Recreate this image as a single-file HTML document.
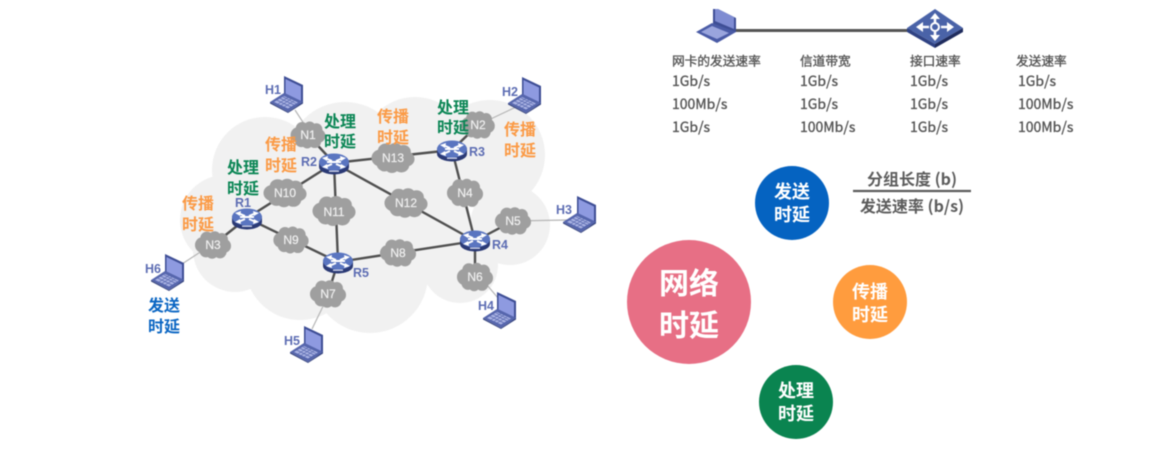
<!DOCTYPE html>
<html lang="zh">
<head>
<meta charset="utf-8">
<title>网络时延</title>
<style>
html,body{margin:0;padding:0;background:#fff;width:1174px;height:471px;overflow:hidden}
svg{display:block;position:absolute;left:0;top:0}
.soft{filter:blur(.5px)}
text{font-family:"Liberation Sans","Noto Sans CJK SC",sans-serif}
.n{font-size:12px;fill:#f0f0f0;text-anchor:middle;font-weight:bold;font-weight:normal;stroke:#f0f0f0;stroke-width:.2px}
.h{font-size:12.5px;font-weight:bold;fill:#5d6db3;text-anchor:middle}
.l{font-size:16px;font-weight:bold;text-anchor:middle;font-family:"Noto Sans CJK SC",sans-serif}
.o{fill:#fb9a45}.g{fill:#0b8655}.b{fill:#0b66c3}
.t{font-size:12.7px;fill:#555;stroke:#555;stroke-width:.35px;font-family:"Noto Sans CJK SC",sans-serif}
.v{font-size:14px;fill:#555;stroke:#555;stroke-width:.35px;font-family:"Noto Sans CJK SC",sans-serif}
.w{fill:#fff;font-weight:bold;text-anchor:middle;font-family:"Noto Sans CJK SC",sans-serif}
.f{font-size:16px;font-weight:bold;fill:#5c5c5c;text-anchor:middle;font-family:"Noto Sans CJK SC",sans-serif}
</style>
</head>
<body>
<svg class="soft" width="1174" height="471" viewBox="0 0 1174 471" xmlns="http://www.w3.org/2000/svg">
<defs>
<g id="cloud">
<circle cx="-12" cy="0" r="8.5"/><circle cx="-7" cy="-7" r="7.5"/><circle cx="2" cy="-8" r="7"/><circle cx="10" cy="-6" r="7"/>
<circle cx="13" cy="1" r="7.5"/><circle cx="8" cy="7" r="7.5"/><circle cx="-1" cy="8" r="7"/><circle cx="-8" cy="6" r="7.5"/>
<ellipse cx="0" cy="0" rx="13" ry="10"/>
</g>
<g id="laptop">
<path d="M14 0 33 9V27L27 30 14 18Z" fill="#3e4e95"/>
<path d="M15.500 3 31 10.500V25L15.500 17.500Z" fill="#8e9ae0"/>
<path d="M0 26 14 17 33 26 18 36Z" fill="#5666ad"/>
<path d="M0 26V27.500L18 37 33 27.500V26L18 36Z" fill="#37457f"/>
<path d="M4 26 14 20 28 26.500 18 32.500Z" fill="#aab3e3"/>
<path d="M7 24.200 21 31M10 22.300 24 29M13 20.800 26 27.500M8 28 18 21.500M11 29.500 21 23M14 31 24 25" stroke="#5666ad" stroke-width=".7" fill="none"/>
</g>
<g id="router">
<ellipse cx="0" cy="3" rx="15" ry="7.500" fill="#2b3a75"/>
<rect x="-15" y="-3" width="30" height="6" fill="#2b3a75"/>
<ellipse cx="0" cy="-2" rx="15" ry="8.500" fill="#5a75c0"/>
<path d="M-9-6-2-3M9-6 2-3M-9 3-2 0M9 3 2 0M-7-2H7" stroke="#fff" stroke-width="2" fill="none"/>
<path d="M-12-6-6-8-7-3ZM12-6 6-8 7-3ZM-12 3-6 5-7 0ZM12 3 6 5 7 0Z" fill="#fff"/>
<rect x="-5" y="6.500" width="10" height="1.400" fill="#c9cfe6"/>
</g>
</defs>

<!-- background cloud -->
<g fill="#f1f1f1">
<circle cx="265" cy="170" r="53"/><circle cx="345" cy="160" r="58"/><circle cx="415" cy="150" r="53"/>
<circle cx="490" cy="155" r="55"/><circle cx="510" cy="225" r="40"/><circle cx="225" cy="220" r="45"/>
<circle cx="235" cy="250" r="42"/><circle cx="300" cy="265" r="55"/><circle cx="370" cy="275" r="58"/>
<circle cx="460" cy="265" r="38"/><circle cx="400" cy="220" r="70"/><circle cx="320" cy="215" r="70"/>
</g>

<!-- host links -->
<g stroke="#b5b5b5" stroke-width="1.200" fill="none">
<path d="M295 110 308 130M478 125 516 107M513 221 567 220M487 285 498 298M328 296 312 329M208 247 182 264"/>
</g>

<!-- backbone links -->
<g stroke="#505050" stroke-width="2.400" fill="none">
<path d="M247 218 334 163M247 218 338 262M247 218 213 245M334 163 308 135M334 163 338 262M334 163 452 150M334 163 475 241M452 150 478 125M452 150 475 241M475 241 513 221M475 241 475 277M475 241 338 262M338 262 328 294"/>
</g>

<!-- small clouds -->
<g fill="#9f9f9f">
<use href="#cloud" transform="translate(308,135) scale(.85,.9)"/>
<use href="#cloud" transform="translate(478,125) scale(.82,.92)"/>
<use href="#cloud" transform="translate(213,245) scale(.88,.92)"/>
<use href="#cloud" transform="translate(465,193) scale(.88,.95)"/>
<use href="#cloud" transform="translate(513,221) scale(.88,.92)"/>
<use href="#cloud" transform="translate(475,277) scale(.88,.95)"/>
<use href="#cloud" transform="translate(328,294) scale(.88,.92)"/>
<use href="#cloud" transform="translate(398,253) scale(.88,.92)"/>
<use href="#cloud" transform="translate(291,240) scale(.86,.9)"/>
<use href="#cloud" transform="translate(285,193) scale(1.05,.95)"/>
<use href="#cloud" transform="translate(334,211) scale(1.05,1)"/>
<use href="#cloud" transform="translate(406,203) scale(1.05,.98)"/>
<use href="#cloud" transform="translate(393,158) scale(1.05,1)"/>
</g>
<text class="n" x="308" y="139">N1</text>
<text class="n" x="478" y="129">N2</text>
<text class="n" x="213" y="249">N3</text>
<text class="n" x="465" y="197">N4</text>
<text class="n" x="513" y="225">N5</text>
<text class="n" x="475" y="281">N6</text>
<text class="n" x="328" y="298">N7</text>
<text class="n" x="398" y="257">N8</text>
<text class="n" x="291" y="244">N9</text>
<text class="n" x="285" y="197">N10</text>
<text class="n" x="334" y="216">N11</text>
<text class="n" x="406" y="207">N12</text>
<text class="n" x="393" y="162">N13</text>

<!-- routers -->
<use href="#router" x="247" y="219"/>
<use href="#router" x="334" y="164"/>
<use href="#router" x="452" y="151"/>
<use href="#router" x="475" y="241"/>
<use href="#router" x="338" y="263"/>
<text class="h" x="243" y="207">R1</text>
<text class="h" x="309" y="166">R2</text>
<text class="h" x="477" y="156">R3</text>
<text class="h" x="500" y="249">R4</text>
<text class="h" x="361" y="277">R5</text>

<!-- hosts -->
<use href="#laptop" x="270" y="76"/>
<use href="#laptop" x="508" y="77"/>
<use href="#laptop" x="563" y="196"/>
<use href="#laptop" x="483" y="292"/>
<use href="#laptop" x="290" y="326"/>
<use href="#laptop" x="151" y="254"/>
<text class="h" x="273" y="94">H1</text>
<text class="h" x="510" y="96">H2</text>
<text class="h" x="564" y="214">H3</text>
<text class="h" x="486" y="310">H4</text>
<text class="h" x="292" y="345">H5</text>
<text class="h" x="153" y="273">H6</text>

<!-- labels -->
<text class="l g" x="340" y="127">处理</text><text class="l g" x="340" y="147">时延</text>
<text class="l o" x="281" y="150">传播</text><text class="l o" x="281" y="171">时延</text>
<text class="l g" x="243" y="173">处理</text><text class="l g" x="243" y="194">时延</text>
<text class="l o" x="198" y="209">传播</text><text class="l o" x="198" y="230">时延</text>
<text class="l o" x="393" y="122">传播</text><text class="l o" x="393" y="143">时延</text>
<text class="l g" x="453" y="113">处理</text><text class="l g" x="453" y="133">时延</text>
<text class="l o" x="520" y="135">传播</text><text class="l o" x="520" y="156">时延</text>
<text class="l b" x="164" y="311">发送</text><text class="l b" x="164" y="332">时延</text>

<!-- top right -->
<path d="M733 30.500H912" stroke="#555" stroke-width="3" fill="none"/>
<path d="M713 9H718L736 18V32L729 34 713 26Z" fill="#3e4e95"/>
<path d="M715 9H718L734 17V29L715 21Z" fill="#7f8cd2"/>
<path d="M696 32 712 23 736 32 717 43Z" fill="#4a5ba6"/>
<path d="M701 32 712 26 729 33 717 39Z" fill="#9aa5dd"/>
<path d="M907 28 935 9 963 28 935 44Z" fill="#4a63a8"/>
<path d="M907 28V32L935 48V44Z" fill="#2f4283"/>
<path d="M935 44V48L963 32V28Z" fill="#1f2c5e"/>
<circle cx="935" cy="27" r="4" fill="none" stroke="#fff" stroke-width="2"/>
<path d="M935 13 940 19H930ZM935 41 930 35H940ZM916 27 923 22V32ZM954 27 947 22V32Z" fill="#fff"/>
<path d="M923 27H929M941 27H947M935 19V23M935 31V35" stroke="#fff" stroke-width="2.500"/>

<text class="t" x="672" y="65.500">网卡的发送速率</text>
<text class="t" x="800" y="65.500">信道带宽</text>
<text class="t" x="910" y="65.500">接口速率</text>
<text class="t" x="1016" y="65.500">发送速率</text>
<text class="v" x="672" y="86">1Gb/s</text><text class="v" x="800" y="86">1Gb/s</text><text class="v" x="910" y="86">1Gb/s</text><text class="v" x="1018" y="86">1Gb/s</text>
<text class="v" x="672" y="109">100Mb/s</text><text class="v" x="800" y="109">1Gb/s</text><text class="v" x="910" y="109">1Gb/s</text><text class="v" x="1018" y="109">100Mb/s</text>
<text class="v" x="672" y="132">1Gb/s</text><text class="v" x="800" y="132">100Mb/s</text><text class="v" x="910" y="132">1Gb/s</text><text class="v" x="1018" y="132">100Mb/s</text>

<!-- circles -->
<circle cx="792" cy="203" r="37" fill="#0563c1"/>
<circle cx="870" cy="302" r="37" fill="#ff9c3e"/>
<circle cx="796" cy="402" r="37" fill="#0a8450"/>
<circle cx="689" cy="302" r="62" fill="#e76f85"/>
<text class="w" font-size="18" x="792" y="198">发送</text><text class="w" font-size="18" x="792" y="221">时延</text>
<text class="w" font-size="18" x="870" y="298">传播</text><text class="w" font-size="18" x="870" y="321">时延</text>
<text class="w" font-size="18" x="796" y="397">处理</text><text class="w" font-size="18" x="796" y="420">时延</text>
<text class="w" font-size="30" x="689" y="294">网络</text><text class="w" font-size="30" x="689" y="336">时延</text>

<!-- fraction -->
<text class="f" x="912" y="185">分组长度 (b)</text>
<path d="M853 191H971" stroke="#5c5c5c" stroke-width="2.200"/>
<text class="f" x="912" y="212">发送速率 (b/s)</text>
</svg>
</body>
</html>
